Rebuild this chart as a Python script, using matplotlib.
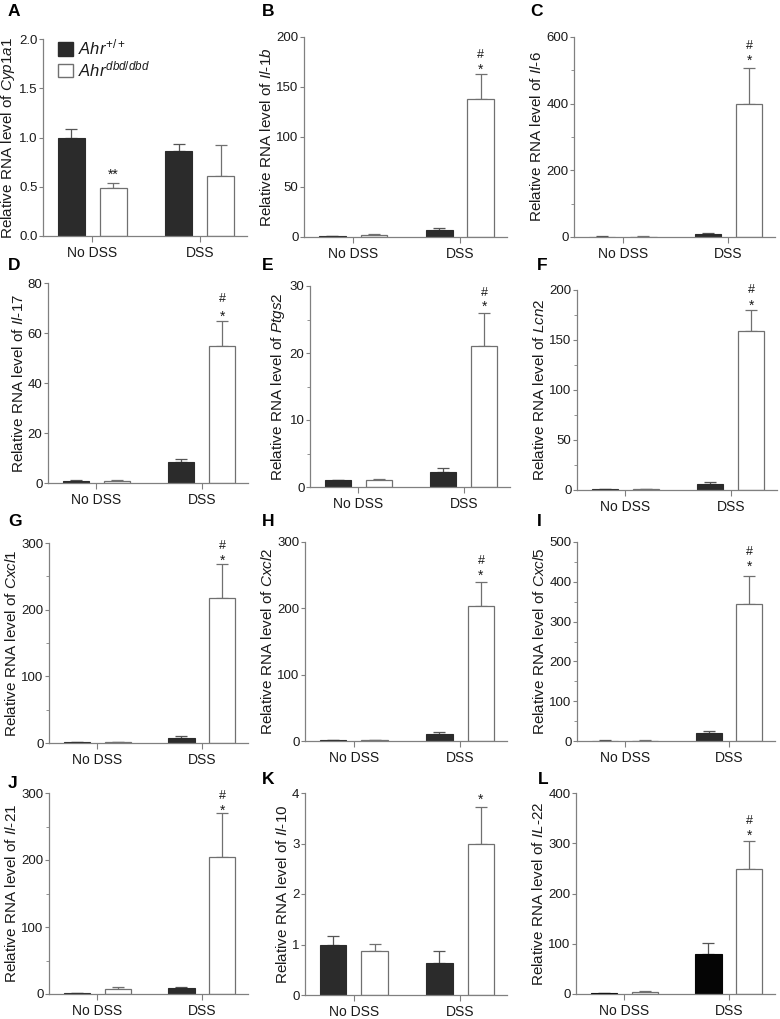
import numpy as np
import matplotlib
matplotlib.use("Agg")
import matplotlib.pyplot as plt
from matplotlib import font_manager
from matplotlib.ticker import AutoMinorLocator, MultipleLocator
from matplotlib.patches import Patch

mc = "#1a1a1a"
grey = "#808080"
plt.rcParams.update(
    {
        "font.family": "Liberation Sans",
        "font.size": 10.5,
        "mathtext.fontset": "custom",
        "mathtext.rm": "Liberation Sans",
        "mathtext.it": "Liberation Sans:italic",
        "mathtext.bf": "Liberation Sans:bold",
        "text.color": mc,
        "axes.labelcolor": mc,
        "xtick.color": grey,
        "ytick.color": grey,
        "xtick.labelcolor": mc,
        "ytick.labelcolor": mc,
    }
)

# narrow face for the tick labels if it is there
names = {f.name for f in font_manager.fontManager.ttflist}
if "Liberation Sans Narrow" in names:
    tick_font, tick_size, xtick_size = "Liberation Sans Narrow", 10.5, 11
else:
    tick_font, tick_size, xtick_size = "Liberation Sans", 9.5, 10

# %% data
groups = ["No DSS", "DSS"]
letters = list("ABCDEFGHIJKL")
genes = ["Cyp1a1", "Il\u20101b", "Il\u20106", "Il\u201017", "Ptgs2", "Lcn2",
         "Cxcl1", "Cxcl2", "Cxcl5", "Il\u201021", "Il\u201010", "IL\u201022"]
wt_mean = [[1.0, 0.86], [1, 7], [1, 8], [1, 8.6], [1.0, 2.3], [1, 6],
           [1, 8], [1, 10], [1, 19], [1, 9], [1.0, 0.64], [2, 80]]
wt_err = [[0.09, 0.07], [0.3, 1.5], [0.5, 5], [0.3, 1.2], [0.1, 0.6], [0.3, 2.5],
          [0.3, 3], [0.5, 4], [0.5, 5], [0.3, 1], [0.16, 0.23], [0.5, 21]]
ko_mean = [[0.49, 0.61], [2, 138], [1, 400], [1, 55], [1.0, 21], [1, 159],
           [1.5, 217], [1, 203], [1, 343], [8, 205], [0.88, 3.0], [3, 249]]
ko_err = [[0.05, 0.31], [0.5, 25], [0.5, 107], [0.2, 10], [0.2, 5], [0.3, 21],
          [0.5, 52], [0.5, 36], [0.5, 72], [3, 65], [0.13, 0.72], [3, 55]]
y_max = [2.0, 200, 600, 80, 30, 200, 300, 300, 500, 300, 4, 400]
y_step = [0.5, 50, 200, 20, 10, 50, 100, 100, 100, 100, 1, 100]
has_minor = [False, False, True, False, True, True, True, False, True, True, False, False]
# significance marks: (group index, text, y)
marks = [
    [(0, "**", 0.66)],
    [(1, "*", 171), (1, "#", 182)],
    [(1, "*", 540), (1, "#", 572)],
    [(1, "*", 68), (1, "#", 73.5)],
    [(1, "*", 27.4), (1, "#", 28.9)],
    [(1, "*", 188), (1, "#", 200)],
    [(1, "*", 279), (1, "#", 295)],
    [(1, "*", 255), (1, "#", 271)],
    [(1, "*", 447), (1, "#", 474)],
    [(1, "*", 278), (1, "#", 295)],
    [(1, "*", 3.94)],
    [(1, "*", 322), (1, "#", 344)],
]
dark = ["#2b2b2b"] * 11 + ["#050505"]

# axes boxes in pixels: left, top, right, bottom
boxes = [
    (43, 39, 247, 236), (304, 37, 507, 237), (574, 37, 775, 237),
    (48, 283, 248, 483), (310, 286, 510, 487), (577, 290, 777, 490),
    (49, 543, 248, 743), (305, 542, 507, 741), (577, 542, 775, 741),
    (49, 793, 248, 994), (305, 793, 507, 995), (576, 793, 775, 994),
]
letter_pos = [
    (8, 12), (262, 12), (530, 12),
    (8, 265), (262, 265), (537, 265),
    (8, 522), (262, 522), (537, 522),
    (8, 783), (262, 780), (538, 780),
]

W, H = 780, 1019
fig = plt.figure(figsize=(W / 100, H / 100), dpi=100)

x = np.arange(len(groups))
off = 0.195
bw = 0.25

for i in range(12):
    l, t, r, b = boxes[i]
    ax = fig.add_axes([l / W, 1 - b / H, (r - l) / W, (b - t) / H])
    ax.bar(x - off, wt_mean[i], bw, color=dark[i], edgecolor=dark[i], linewidth=0.8, zorder=2)
    ax.bar(x + off, ko_mean[i], bw, color="white", edgecolor="#707070", linewidth=0.9, zorder=2)
    ax.errorbar(x - off, wt_mean[i], yerr=[np.zeros(2), wt_err[i]], fmt="none",
                ecolor="#555555", elinewidth=0.9, capsize=4, capthick=0.9, zorder=1)
    ax.errorbar(x + off, ko_mean[i], yerr=[np.zeros(2), ko_err[i]], fmt="none",
                ecolor="#707070", elinewidth=0.9, capsize=4, capthick=0.9, zorder=1)

    for g, txt, yy in marks[i]:
        dy = -2.5 if "*" in txt else 0
        ax.annotate(txt, (x[g] + off, yy), xytext=(0, dy), textcoords="offset points",
                    ha="center", va="center", fontsize=9 if txt == "#" else 10, color=mc)

    ax.set_xlim(-0.46, 1.44)
    ax.set_ylim(0, y_max[i])
    ax.yaxis.set_major_locator(MultipleLocator(y_step[i]))
    if y_step[i] < 1:
        ax.yaxis.set_major_formatter(plt.FormatStrFormatter("%.1f"))
    else:
        ax.yaxis.set_major_formatter(plt.FormatStrFormatter("%d"))
    if has_minor[i]:
        ax.yaxis.set_minor_locator(AutoMinorLocator(2))
        ax.tick_params(axis="y", which="minor", length=2, width=0.6, color=grey)
    ax.set_xticks(x)
    ax.set_xticklabels(groups, fontsize=xtick_size, family=tick_font)
    for lab in ax.get_yticklabels():
        lab.set_family(tick_font)
    ax.tick_params(axis="y", which="major", length=3, width=0.8, pad=1, labelsize=tick_size)
    ax.tick_params(axis="x", which="major", length=4, width=0.8, pad=3)
    ax.set_ylabel("Relative RNA level of $\\mathit{" + genes[i] + "}$", fontsize=11, labelpad=1.5)

    for s in ["top", "right"]:
        ax.spines[s].set_visible(False)
    for s in ["left", "bottom"]:
        ax.spines[s].set_color(grey)
        ax.spines[s].set_linewidth(0.9)

    lx, ly = letter_pos[i]
    fig.text(lx / W, 1 - ly / H, letters[i], fontsize=12.5, fontweight="bold",
             ha="left", va="center", color="black")

    if i == 0:
        handles = [Patch(facecolor=dark[0], edgecolor=dark[0]),
                   Patch(facecolor="white", edgecolor="#707070")]
        labs = ["$\\mathit{Ahr}^{+/+}$", "$\\mathit{Ahr}^{dbd/dbd}$"]
        ax.legend(handles, labs, loc="upper left", bbox_to_anchor=(0.04, 1.04),
                  frameon=False, fontsize=12, handlelength=0.9, handleheight=0.9,
                  handletextpad=0.3, labelspacing=0.1, borderaxespad=0)

fig.savefig("out.png", dpi=100)
